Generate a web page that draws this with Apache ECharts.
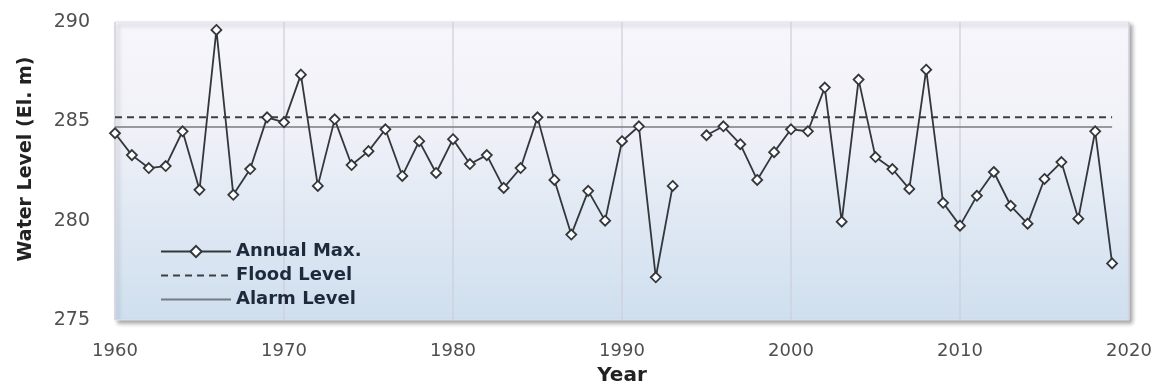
<!DOCTYPE html>
<html>
<head>
<meta charset="utf-8">
<script src="https://cdn.jsdelivr.net/npm/echarts@6/dist/echarts.min.js"></script>
<style>
  html, body { margin: 0; padding: 0; background: #ffffff; }
  #chart { width: 1157px; height: 391px; }
</style>
</head>
<body>
<div id="chart"></div>
<script>
const years = [
  1960, 1961, 1962, 1963, 1964, 1965, 1966, 1967, 1968, 1969,
  1970, 1971, 1972, 1973, 1974, 1975, 1976, 1977, 1978, 1979,
  1980, 1981, 1982, 1983, 1984, 1985, 1986, 1987, 1988, 1989,
  1990, 1991, 1992, 1993, 1994, 1995, 1996, 1997, 1998, 1999,
  2000, 2001, 2002, 2003, 2004, 2005, 2006, 2007, 2008, 2009,
  2010, 2011, 2012, 2013, 2014, 2015, 2016, 2017, 2018, 2019
];
const annualMax = [
  284.4, 283.3, 282.65, 282.75, 284.5, 281.55, 289.6, 281.3, 282.6, 285.2,
  284.95, 287.35, 281.75, 285.1, 282.8, 283.5, 284.6, 282.25, 284.0, 282.4,
  284.1, 282.85, 283.3, 281.65, 282.65, 285.2, 282.05, 279.3, 281.5, 280.0,
  284.0, 284.75, 277.15, 281.75, null, 284.3, 284.75, 283.85, 282.05, 283.45,
  284.6, 284.5, 286.7, 279.95, 287.1, 283.2, 282.6, 281.6, 287.6, 280.9,
  279.75, 281.25, 282.45, 280.75, 279.85, 282.1, 282.95, 280.1, 284.5, 277.85
];
const floodLevel = 285.2;
const alarmLevel = 284.72;
const xTicks = [1960, 1970, 1980, 1990, 2000, 2010, 2020];
const yTicks = [275, 280, 285, 290];

const seriesNames = ['Annual Max.', 'Flood Level', 'Alarm Level'];

const maxData = years.map((y, i) => [y, annualMax[i]]);
const firstYear = years[0], lastYear = years[years.length - 1];
const floodData = [[firstYear, floodLevel], [lastYear, floodLevel]];
const alarmData = [[firstYear, alarmLevel], [lastYear, alarmLevel]];

const chart = echarts.init(document.getElementById('chart'), null, { renderer: 'canvas' });

const option = {
  backgroundColor: '#ffffff',
  animation: false,
  textStyle: { fontFamily: '"DejaVu Sans", sans-serif' },
  grid: {
    left: 115, right: 28, top: 22, bottom: 61,
    show: true,
    backgroundColor: new echarts.graphic.LinearGradient(0, 0, 0, 1, [
      { offset: 0, color: '#f7f6fc' },
      { offset: 0.35, color: '#f1f1f8' },
      { offset: 0.6, color: '#e2eaf4' },
      { offset: 1, color: '#cfdfee' }
    ]),
    borderColor: '#e4e4ec',
    borderWidth: 1,
    shadowColor: 'rgba(0,0,0,0.35)',
    shadowBlur: 4,
    shadowOffsetX: 3,
    shadowOffsetY: 3
  },
  legend: {
    orient: 'vertical',
    left: 160,
    top: 242,
    padding: 0,
    itemWidth: 70,
    itemHeight: 14,
    itemGap: 5,
    data: [
      { name: seriesNames[0] },
      { name: seriesNames[1], itemStyle: { opacity: 0 } },
      { name: seriesNames[2], itemStyle: { opacity: 0 } }
    ],
    textStyle: {
      fontFamily: '"DejaVu Sans", sans-serif',
      fontWeight: 'bold',
      fontSize: 18,
      color: '#1d2a3b',
      lineHeight: 19,
      padding: [0, 0, 0, 0]
    }
  },
  xAxis: {
    type: 'value',
    min: xTicks[0],
    max: xTicks[xTicks.length - 1],
    interval: 10,
    name: 'Year',
    nameLocation: 'middle',
    nameGap: 46,
    nameTextStyle: {
      fontFamily: '"DejaVu Sans", sans-serif',
      fontWeight: 'bold', fontSize: 20, color: '#222'
    },
    axisLine: { show: false },
    axisTick: { show: false },
    axisLabel: {
      margin: 22,
      fontSize: 18,
      color: '#4f4f4f',
      fontFamily: '"DejaVu Sans", sans-serif',
      formatter: v => String(v)
    },
    splitLine: { show: true, lineStyle: { color: 'rgba(205,205,220,0.6)', width: 2 } }
  },
  yAxis: {
    type: 'value',
    min: yTicks[0],
    max: yTicks[yTicks.length - 1],
    interval: 5,
    axisLine: { show: false },
    axisTick: { show: false },
    axisLabel: {
      margin: 25,
      fontSize: 19,
      color: '#4f4f4f',
      padding: [9, 0, 0, 0],
      fontFamily: '"DejaVu Sans", sans-serif'
    },
    splitLine: { show: false }
  },
  graphic: [{
    type: 'text',
    x: 26,
    y: 159,
    rotation: Math.PI / 2,
    style: {
      text: 'Water Level (El. m)',
      x: 0, y: 0,
      align: 'center',
      verticalAlign: 'middle',
      textAlign: 'center',
      textVerticalAlign: 'middle',
      font: 'bold 19px "DejaVu Sans", sans-serif',
      fill: '#222'
    }
  }],
  series: [
    {
      name: seriesNames[1],
      type: 'line',
      data: floodData,
      symbol: 'none',
      z: 2,
      lineStyle: { color: '#3c4045', width: 2, type: [7, 5] },
      itemStyle: { color: '#3c4045' }
    },
    {
      name: seriesNames[2],
      type: 'line',
      data: alarmData,
      symbol: 'none',
      z: 2,
      lineStyle: { color: '#777c82', width: 1.5, type: 'solid' },
      itemStyle: { color: '#777c82' }
    },
    {
      name: seriesNames[0],
      type: 'line',
      data: maxData,
      connectNulls: false,
      symbol: 'diamond',
      symbolSize: 10,
      showAllSymbol: true,
      z: 3,
      lineStyle: { color: '#33373c', width: 1.8 },
      itemStyle: { color: '#ffffff', borderColor: '#33373c', borderWidth: 1.8 }
    }
  ]
};

chart.setOption(option);
</script>
</body>
</html>
